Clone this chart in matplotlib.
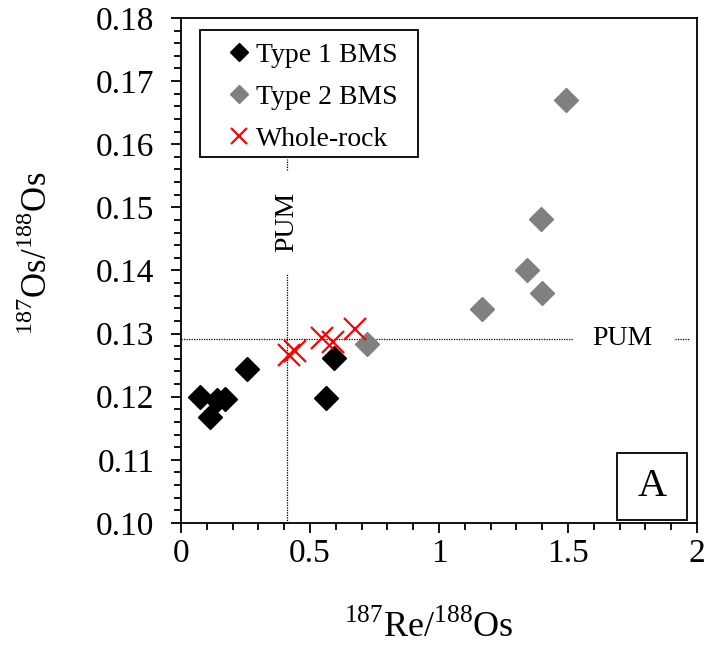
import numpy as np
import matplotlib
matplotlib.use('Agg')
import matplotlib.pyplot as plt
from matplotlib.lines import Line2D
from matplotlib.patches import Rectangle
from matplotlib.ticker import MultipleLocator, FormatStrFormatter

plt.rcParams['font.family'] = ['Liberation Serif', 'DejaVu Serif']
plt.rcParams['mathtext.fontset'] = 'custom'
plt.rcParams['mathtext.rm'] = 'Liberation Serif'

# Type 1 BMS (black)
t1_re = [0.074, 0.112, 0.138, 0.171, 0.257, 0.562, 0.593]
t1_os = [0.1200, 0.1168, 0.1195, 0.1197, 0.1244, 0.1198, 0.1262]

# Type 2 BMS (grey)
t2_re = [0.722, 1.165, 1.340, 1.394, 1.401, 1.491]
t2_os = [0.1284, 0.1339, 0.1400, 0.1481, 0.1365, 0.1670]

# whole-rock (red crosses)
wr_re = [0.420, 0.440, 0.545, 0.590, 0.674]
wr_os = [0.1266, 0.1272, 0.1293, 0.1286, 0.1307]

# PUM reference values
pum_re = 0.41
pum_os = 0.1292

fig = plt.figure(figsize=(7.09, 6.47), dpi=100)
ax = fig.add_axes([0.2553, 0.1917, 0.7277, 0.7805])

# PUM dotted lines (broken where the labels sit)
dot = dict(color='black', linestyle=(0, (1, 1)), linewidth=0.9, zorder=1)
ax.plot([0, 1.52], [pum_os, pum_os], **dot)
ax.plot([1.915, 1.97], [pum_os, pum_os], **dot)
ax.plot([pum_re, pum_re], [0.10, 0.1396], **dot)
ax.plot([pum_re, pum_re], [0.1559, 0.1577], **dot)
ax.text(1.71, pum_os, 'PUM', fontsize=20, ha='center', va='center')
ax.text(pum_re, 0.1477, 'PUM', fontsize=20, ha='center', va='center', rotation=90)

ax.plot(t1_re, t1_os, 'D', color='black', markersize=12, linestyle='none', zorder=3)
ax.plot(t2_re, t2_os, 'D', color='#808080', markersize=12, linestyle='none', zorder=3)
ax.plot(wr_re, wr_os, 'x', color='red', markersize=16, markeredgewidth=1.6,
        linestyle='none', zorder=4)

ax.set_xlim(0, 2)
ax.set_ylim(0.10, 0.18)
ax.xaxis.set_major_locator(MultipleLocator(0.5))
ax.xaxis.set_minor_locator(MultipleLocator(0.1))
ax.yaxis.set_major_locator(MultipleLocator(0.01))
ax.yaxis.set_minor_locator(MultipleLocator(0.002))
ax.yaxis.set_major_formatter(FormatStrFormatter('%.2f'))
ax.xaxis.set_major_formatter(lambda v, p: f'{v:g}')

ax.tick_params(which='both', direction='out', labelsize=24, width=1.3, color='black')
ax.tick_params(which='major', length=7)
ax.tick_params(which='minor', length=5)
ax.tick_params(axis='x', pad=4)
ax.tick_params(axis='y', pad=12)
for s in ax.spines.values():
    s.set_linewidth(1.3)

ax.set_xlabel(r'$^{187}$Re/$^{188}$Os', fontsize=26)
ax.xaxis.set_label_coords(0.48, -0.172)
fig.text(38 / 709, 1 - 253 / 647, r'$^{187}$Os/$^{188}$Os', fontsize=25,
         rotation=90, ha='center', va='center')

# legend box
ax.add_patch(Rectangle((0.037, 0.725), 0.422, 0.251, transform=ax.transAxes,
                       facecolor='white', edgecolor='black', linewidth=1.3, zorder=5))
handles = [
    Line2D([], [], marker='D', color='black', markersize=9, linestyle='none'),
    Line2D([], [], marker='D', color='#808080', markersize=9, linestyle='none'),
    Line2D([], [], marker='x', color='red', markersize=12, markeredgewidth=1.6, linestyle='none'),
]
leg = ax.legend(handles, ['Type 1 BMS', 'Type 2 BMS', 'Whole-rock'],
                loc='upper left', bbox_to_anchor=(0.068, 0.976), fontsize=20,
                frameon=False, handlelength=0.8, handletextpad=0.2,
                borderpad=0.44, borderaxespad=0, labelspacing=0.6)
leg.set_zorder(6)

# panel label box
ax.add_patch(Rectangle((0.845, 0.006), 0.136, 0.133, transform=ax.transAxes,
                       facecolor='white', edgecolor='black', linewidth=1.3, zorder=5))
ax.text(0.913, 0.072, 'A', transform=ax.transAxes, fontsize=29, ha='center',
        va='center', zorder=6)

fig.savefig('out.png', dpi=100)
